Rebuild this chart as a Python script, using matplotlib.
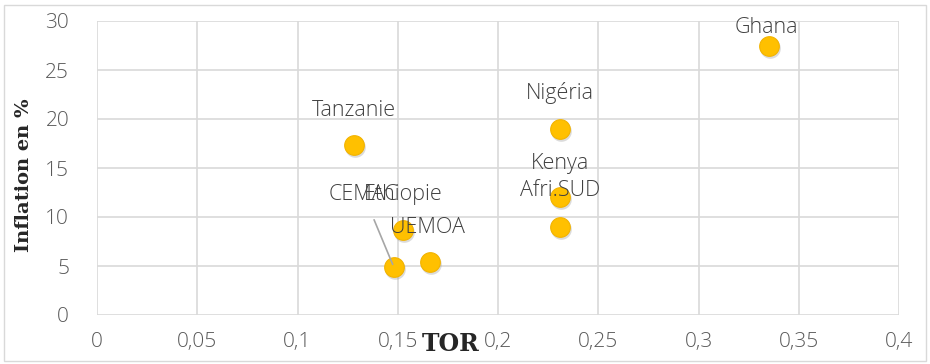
import matplotlib
matplotlib.use("Agg")
import matplotlib.pyplot as plt
from matplotlib.patches import Rectangle
import matplotlib.transforms as mtransforms

labels = ["Tanzanie", "Ghana", "Nigéria", "Kenya", "Afri.SUD", "Ethiopie", "CEMAC", "UEMOA"]
tor = [0.128, 0.335, 0.231, 0.231, 0.231, 0.1525, 0.148, 0.166]
inflation = [17.3, 27.4, 19.0, 12.0, 9.0, 8.7, 4.9, 5.4]
xticks = [0, 0.05, 0.1, 0.15, 0.2, 0.25, 0.3, 0.35, 0.4]
xticklabels = ["0", "0,05", "0,1", "0,15", "0,2", "0,25", "0,3", "0,35", "0,4"]
yticks = [0, 5, 10, 15, 20, 25, 30]

# label offsets in pixels (dx, dy)
offsets = [(0, 35), (-2, 19), (0, 36), (0, 34), (0, 36), (0, 35), (-30, 72), (-2, 35)]

W, H = 930, 364
fig = plt.figure(figsize=(W / 100, H / 100), dpi=100)
fig.patch.set_facecolor("white")
fig.patches.append(Rectangle((4 / W, 3 / H), 922 / W, 356 / H, transform=fig.transFigure,
                             fill=False, edgecolor="#d9d9d9", linewidth=1))

ax = fig.add_axes([97 / W, 1 - 315 / H, (899 - 97) / W, (315 - 21) / H])
ax.set_xlim(0, 0.4)
ax.set_ylim(0, 30)
for s in ax.spines.values():
    s.set_visible(False)
ax.set_xticks(xticks)
ax.set_xticklabels(xticklabels)
ax.set_yticks(yticks)
ax.grid(True, color="#d9d9d9", linewidth=1.2)
ax.set_axisbelow(True)
ax.tick_params(length=0, labelsize=15, colors="#595959")
ax.tick_params(axis="x", pad=12)
ax.tick_params(axis="y", pad=20)
for t in ax.get_xticklabels() + ax.get_yticklabels():
    t.set_family("Open Sans")
    t.set_fontweight("light")

# shadow
shadow_tr = ax.transData + mtransforms.ScaledTranslation(1 / 100, -2 / 100, fig.dpi_scale_trans)
ax.scatter(tor, inflation, s=220, color="#9a9a9a", alpha=0.35, linewidths=0, zorder=2,
           transform=shadow_tr)
ax.scatter(tor, inflation, s=200, color="#FFC000", edgecolors="#F2B300", linewidths=0.8, zorder=3)

for name, x, y, (dx, dy) in zip(labels, tor, inflation, offsets):
    kw = dict(xy=(x, y), xytext=(dx, dy), textcoords="offset pixels",
              ha="center", va="center", fontsize=15.5, color="#404040",
              family="Open Sans", fontweight="light", zorder=5)
    if name == "CEMAC":
        kw["arrowprops"] = dict(arrowstyle="-", color="#a6a6a6", lw=1.2, shrinkA=9, shrinkB=2)
    ax.annotate(name, **kw)

fig.text(24 / W, 1 - 175 / H, "Inflation en %", rotation=90, ha="center", va="center",
         fontsize=14, fontweight="bold", family="DejaVu Serif", color="#262626")
fig.text(451 / W, 1 - 344 / H, "TOR", ha="center", va="center",
         fontsize=17, fontweight="bold", family="DejaVu Serif", color="#262626")

fig.savefig("out.png", dpi=100, facecolor="white")
